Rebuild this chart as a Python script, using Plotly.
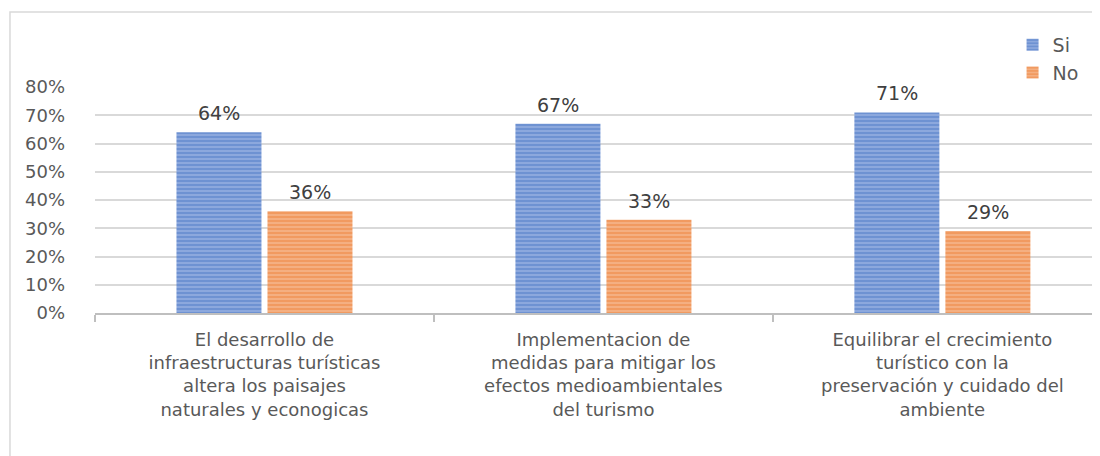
import plotly.graph_objects as go

# Datos
categorias = [
    "El desarrollo de<br>infraestructuras turísticas<br>altera los paisajes<br>naturales y econogicas",
    "Implementacion de<br>medidas para mitigar los<br>efectos medioambientales<br>del turismo",
    "Equilibrar el crecimiento<br>turístico con la<br>preservación y cuidado del<br>ambiente",
]
si_vals = [0.64, 0.67, 0.71]
no_vals = [0.36, 0.33, 0.29]

FONT = "DejaVu Sans"
TXT = "#595959"

fig = go.Figure()

fig.add_trace(go.Bar(
    x=categorias, y=si_vals, name="Si",
    marker=dict(color="#8EA9DB", line=dict(width=0),
                pattern=dict(shape="-", fgcolor="#4472C4", bgcolor="#98B2E0",
                             size=4, solidity=0.65)),
))
fig.add_trace(go.Bar(
    x=categorias, y=no_vals, name="No",
    marker=dict(color="#F4B084", line=dict(width=0),
                pattern=dict(shape="-", fgcolor="#ED7D31", bgcolor="#F5B78E",
                             size=4, solidity=0.65)),
))

# Etiquetas de datos (encima de cada barra, con algo de aire)
for serie, desp in ((si_vals, -45), (no_vals, 46)):
    for cat, v in zip(categorias, serie):
        fig.add_annotation(x=cat, y=v, text=f"{v:.0%}", showarrow=False,
                           xshift=desp, yshift=19,
                           font=dict(size=19, color="#404040", family=FONT))

# Borde del gráfico (cortado a la derecha)
fig.add_shape(type="rect", xref="paper", yref="paper",
              x0=-0.0846, x1=1.05, y0=-0.75, y1=1.332,
              line=dict(color="#d9d9d9", width=1.5), layer="below")

fig.update_layout(
    width=1092, height=448,
    margin=dict(l=87, r=0, t=79, b=143),
    paper_bgcolor="white", plot_bgcolor="white",
    font=dict(family=FONT, size=17, color=TXT),
    barmode="group", bargap=0.463, bargroupgap=0.066,
    legend=dict(x=0.913, y=1.27, xanchor="left", yanchor="top",
                font=dict(size=19, color=TXT), tracegroupgap=0,
                itemwidth=30, bgcolor="rgba(0,0,0,0)"),
)

fig.update_xaxes(
    range=[-0.5, 2.465], showgrid=False,
    showline=True, linecolor="#bfbfbf", linewidth=2,
    ticks="outside", tickson="boundaries", ticklen=7, tickcolor="#bfbfbf", tickwidth=2,
    tickfont=dict(size=18, color=TXT), tickangle=0, ticklabelstandoff=9,
)
fig.update_yaxes(
    range=[0, 0.8], tickvals=[0, 0.1, 0.2, 0.3, 0.4, 0.5, 0.6, 0.7, 0.8],
    tickformat=".0%", showgrid=True, gridcolor="#d9d9d9", gridwidth=1.5,
    zeroline=False, showline=False, ticklabelstandoff=29,
    tickfont=dict(size=18, color=TXT),
)

fig.write_html("out.html")
